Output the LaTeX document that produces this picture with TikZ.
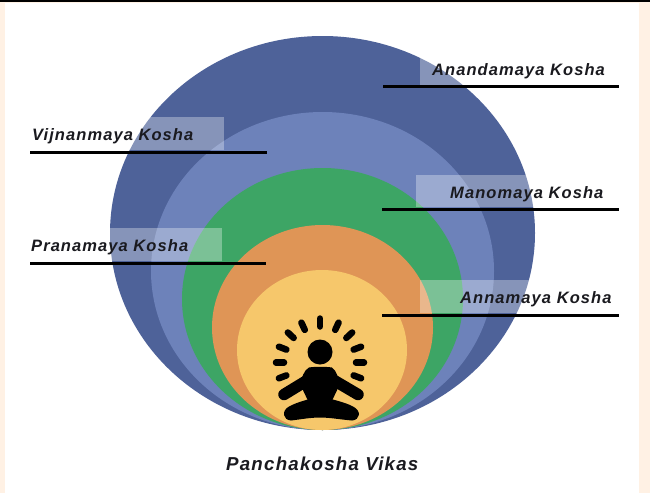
\documentclass[tikz,border=0pt]{standalone}
\usepackage{fontspec}
\setmainfont{Liberation Sans}[LetterSpace=6.5]
\definecolor{cream}{HTML}{FFF1E4}
\definecolor{koshaA}{HTML}{4E6299}
\definecolor{koshaB}{HTML}{6D82BA}
\definecolor{koshaC}{HTML}{3DA565}
\definecolor{koshaD}{HTML}{DF9556}
\definecolor{koshaE}{HTML}{F6C76B}
\definecolor{ink}{HTML}{1A1A1F}
\tikzset{
  veil/.style={fill=white,fill opacity=0.32,draw=none},
  rule/.style={draw=black,line width=3pt},
  koshalabel/.style={anchor=base west,inner sep=0pt,text=ink,font=\bfseries\itshape\fontsize{16.5}{17}\selectfont},
  titlelabel/.style={anchor=base west,inner sep=0pt,text=ink,font=\bfseries\itshape\fontsize{18.7}{19}\selectfont},
  ray/.style={draw=black,line width=6.5pt,line cap=round},
  limb/.style={draw=black,line width=11.5pt,line cap=round}
}
\begin{document}
\begin{tikzpicture}[x=1pt,y=-1pt]
\useasboundingbox (0,0) rectangle (650,493);
\fill[cream] (0,0) rectangle (650,493);
\fill[white] (5,3) rectangle (639,493);
\fill[black] (0,0) rectangle (650,2.2);
% shells
\fill[koshaA] (322.5,233) ellipse [x radius=212.5,y radius=197];
\fill[koshaB] (322.5,271) ellipse [x radius=171.5,y radius=159];
\fill[koshaC] (322.5,299) ellipse [x radius=140.5,y radius=131];
\fill[koshaD] (322.5,327.5) ellipse [x radius=110.5,y radius=102.5];
\fill[koshaE] (322,350) ellipse [x radius=85,y radius=80];
% translucent label backgrounds
\fill[veil] (420,58) rectangle (620,85);
\fill[veil] (416,175) rectangle (620,207);
\fill[veil] (420,280) rectangle (620,313);
\fill[veil] (30,117) rectangle (224,150);
\fill[veil] (30,228) rectangle (222,261);
% leader lines
\coordinate (a1) at (383,86);  \coordinate (a2) at (619,86);
\coordinate (m1) at (382,209); \coordinate (m2) at (619,209);
\coordinate (n1) at (382,315); \coordinate (n2) at (619,315);
\coordinate (v1) at (30,152);  \coordinate (v2) at (267,152);
\coordinate (p1) at (30,263);  \coordinate (p2) at (266,263);
\draw[rule] (a1) -- (a2);
\draw[rule] (m1) -- (m2);
\draw[rule] (n1) -- (n2);
\draw[rule] (v1) -- (v2);
\draw[rule] (p1) -- (p2);
% labels
\node[koshalabel] (anandamaya) at (432,75) {Anandamaya Kosha};
\node[koshalabel] (manomaya) at (450,198) {Manomaya Kosha};
\node[koshalabel] (annamaya) at (460,303) {Annamaya Kosha};
\node[koshalabel] (vijnanmaya) at (32,140) {Vijnanmaya Kosha};
\node[koshalabel] (pranamaya) at (31,251) {Pranamaya Kosha};
\node[titlelabel] (title) at (226,470) {Panchakosha Vikas};
% meditating figure
\foreach \a in {-21,0,21,43,65,90,115,137,159,180,201}
  \draw[ray] (320,362.5) ++({\a}:{36} and {-36}) -- ++({\a}:{8} and {-8});
\fill[black] (320,352) circle (12.5);
\fill[black] (309,367.5) .. controls (315,366.5) and (325,366.5) .. (332,367.5)
  .. controls (336,370) and (339,378) .. (339,386)
  -- (330,405) -- (310,405) -- (301,386)
  .. controls (301,378) and (304,370) .. (309,367.5) -- cycle;
\draw[limb] (311,378) -- (284,394.5);
\draw[limb] (330,378) -- (358,394.5);
\fill[black] (320,396) .. controls (330,399) and (345,402) .. (353,406.5)
  .. controls (362,411) and (360,420) .. (352,420.5)
  .. controls (340,419.5) and (330,417.5) .. (320,417.5)
  .. controls (310,417.5) and (300,419.5) .. (291,420.5)
  .. controls (283,420) and (281,411) .. (289,406.5)
  .. controls (297,402) and (310,399) .. (320,396) -- cycle;
\end{tikzpicture}
\end{document}
